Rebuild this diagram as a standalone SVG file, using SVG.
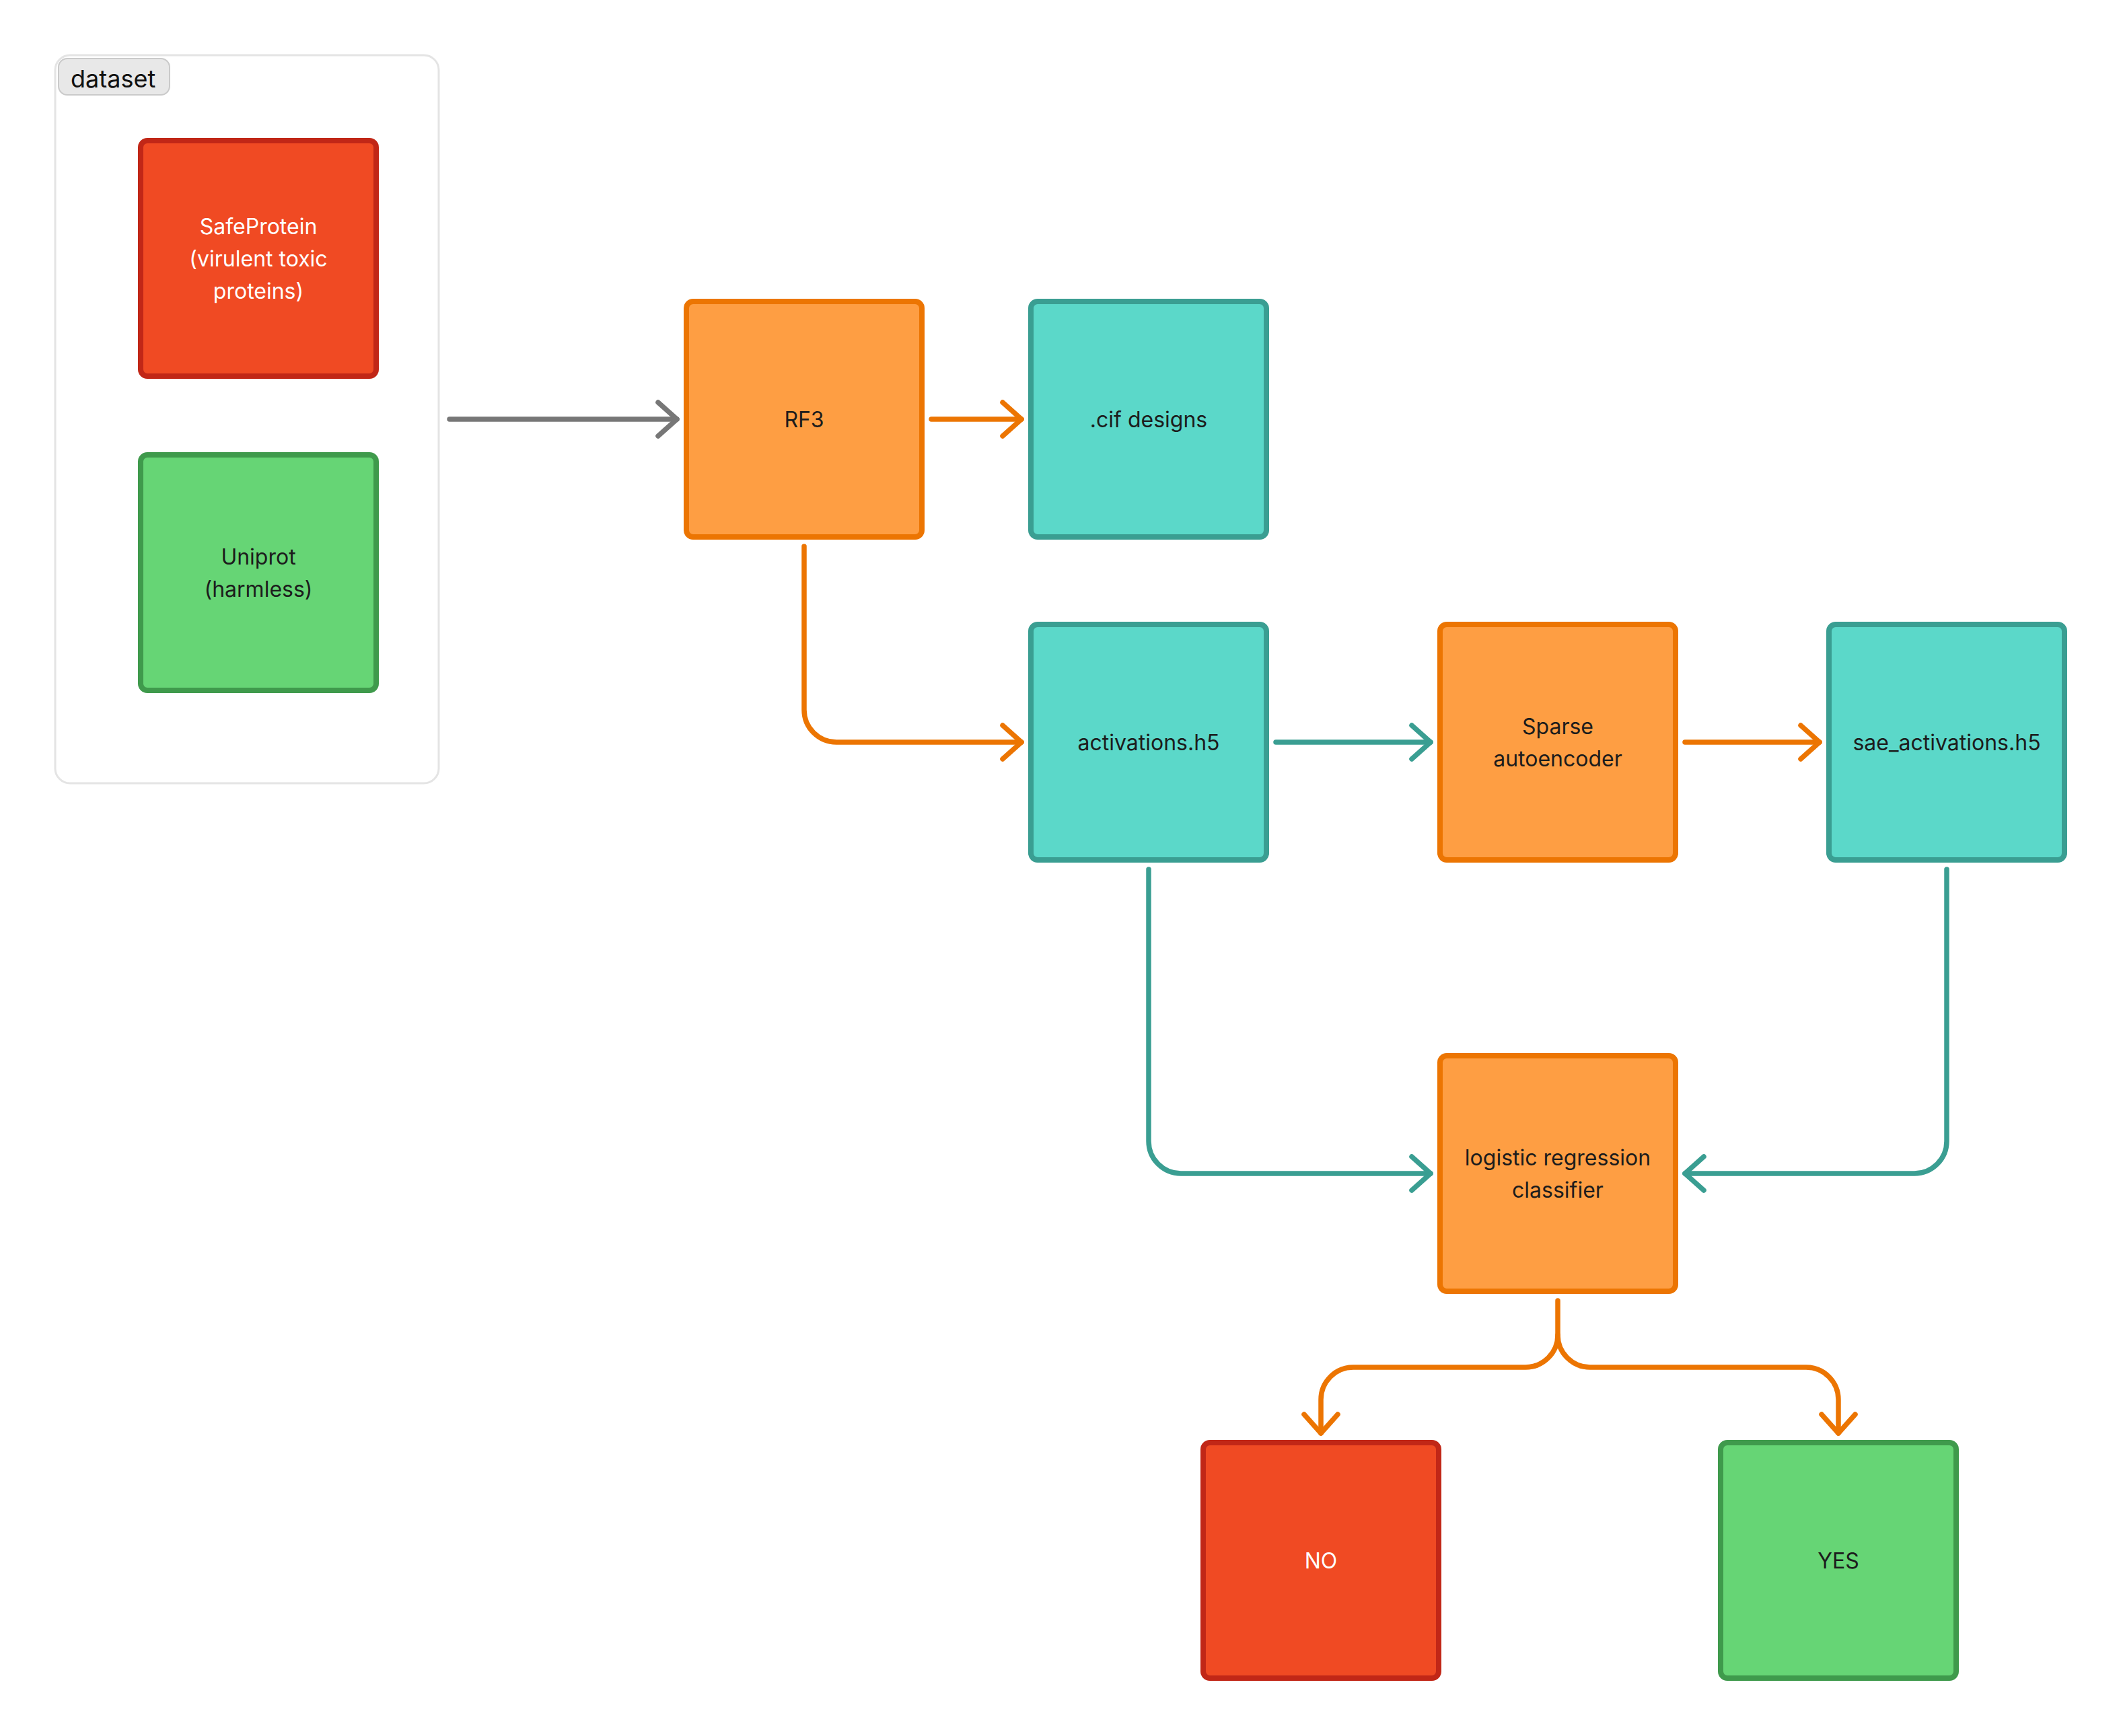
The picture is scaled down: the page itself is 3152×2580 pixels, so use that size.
<svg xmlns="http://www.w3.org/2000/svg" width="3152" height="2580" viewBox="0 0 3152 2580">
<style>
.node{stroke-width:8}
.orange{fill:#FE9E43;stroke:#EC7502}
.teal{fill:#5BD8C9;stroke:#3A9E92}
.red{fill:#F04A23;stroke:#C12717}
.green{fill:#66D575;stroke:#3F9A4C}
.lbl{font-family:Inter,"Noto Sans","Liberation Sans",sans-serif;font-size:32px;text-anchor:middle;fill:#1c1c1c}
.lbl.w{fill:#ffffff}
.edge{fill:none;stroke-width:7.5;stroke-linecap:round;stroke-linejoin:round}
.e-gray{stroke:#777777}
.e-orange{stroke:#EC7502}
.e-teal{stroke:#3A9E92}
</style>
<defs>
<marker id="ah-gray" markerUnits="userSpaceOnUse" markerWidth="80" markerHeight="80" refX="0" refY="0" orient="auto" overflow="visible"><path d="M-28,-25 L0,0 L-28,25" fill="none" stroke="#777777" stroke-width="7.5" stroke-linecap="round" stroke-linejoin="round"/></marker>
<marker id="ah-orange" markerUnits="userSpaceOnUse" markerWidth="80" markerHeight="80" refX="0" refY="0" orient="auto" overflow="visible"><path d="M-28,-25 L0,0 L-28,25" fill="none" stroke="#EC7502" stroke-width="7.5" stroke-linecap="round" stroke-linejoin="round"/></marker>
<marker id="ah-teal" markerUnits="userSpaceOnUse" markerWidth="80" markerHeight="80" refX="0" refY="0" orient="auto" overflow="visible"><path d="M-28,-25 L0,0 L-28,25" fill="none" stroke="#3A9E92" stroke-width="7.5" stroke-linecap="round" stroke-linejoin="round"/></marker>
</defs>
<rect width="3152" height="2580" fill="#ffffff"/>

<g id="group-dataset">
<rect x="82" y="82" width="570" height="1082" rx="22" fill="#ffffff" stroke="#E4E4E4" stroke-width="3"/>
<rect x="87" y="87" width="165" height="54" rx="13" fill="#E8E8E8" stroke="#CACACA" stroke-width="2"/>
<text x="105" y="130" font-family="Inter,'Noto Sans','Liberation Sans',sans-serif" font-size="36" fill="#111111">dataset</text>
</g>

<g id="connectors">
<path class="edge e-gray" d="M668 623 H1006" marker-end="url(#ah-gray)"/>
<path class="edge e-orange" d="M1384 623 H1518" marker-end="url(#ah-orange)"/>
<path class="edge e-orange" d="M1195 812 V1055 A48 48 0 0 0 1243 1103 H1518" marker-end="url(#ah-orange)"/>
<path class="edge e-teal" d="M1896 1103 H2126" marker-end="url(#ah-teal)"/>
<path class="edge e-orange" d="M2504 1103 H2704" marker-end="url(#ah-orange)"/>
<path class="edge e-teal" d="M1707 1292 V1696 A48 48 0 0 0 1755 1744 H2126" marker-end="url(#ah-teal)"/>
<path class="edge e-teal" d="M2893 1292 V1696 A48 48 0 0 1 2845 1744 H2504" marker-end="url(#ah-teal)"/>
<path class="edge e-orange" d="M2315 1933 V1984 A48 48 0 0 1 2267 2032 H2011 A48 48 0 0 0 1963 2080 V2130" marker-end="url(#ah-orange)"/>
<path class="edge e-orange" d="M2315 1984 A48 48 0 0 0 2363 2032 H2684 A48 48 0 0 1 2732 2080 V2130" marker-end="url(#ah-orange)"/>
</g>

<g id="node-safeprotein">
<rect class="node red" x="209" y="209" width="350" height="350" rx="10"/>
<text class="lbl w" x="384" y="347.5">SafeProtein</text>
<text class="lbl w" x="384" y="395.5">(virulent toxic</text>
<text class="lbl w" x="384" y="443.5">proteins)</text>
</g>

<g id="node-uniprot">
<rect class="node green" x="209" y="676" width="350" height="350" rx="10"/>
<text class="lbl" x="384" y="838.5">Uniprot</text>
<text class="lbl" x="384" y="886.5">(harmless)</text>
</g>

<g id="node-rf3">
<rect class="node orange" x="1020" y="448" width="350" height="350" rx="10"/>
<text class="lbl" x="1195" y="634.5">RF3</text>
</g>

<g id="node-cif">
<rect class="node teal" x="1532" y="448" width="350" height="350" rx="10"/>
<text class="lbl" x="1707" y="634.5">.cif designs</text>
</g>

<g id="node-activations">
<rect class="node teal" x="1532" y="928" width="350" height="350" rx="10"/>
<text class="lbl" x="1707" y="1114.5">activations.h5</text>
</g>

<g id="node-sae">
<rect class="node orange" x="2140" y="928" width="350" height="350" rx="10"/>
<text class="lbl" x="2315" y="1090.5">Sparse</text>
<text class="lbl" x="2315" y="1138.5">autoencoder</text>
</g>

<g id="node-sae-activations">
<rect class="node teal" x="2718" y="928" width="350" height="350" rx="10"/>
<text class="lbl" x="2893" y="1114.5">sae_activations.h5</text>
</g>

<g id="node-classifier">
<rect class="node orange" x="2140" y="1569" width="350" height="350" rx="10"/>
<text class="lbl" x="2315" y="1731.5">logistic regression</text>
<text class="lbl" x="2315" y="1779.5">classifier</text>
</g>

<g id="node-no">
<rect class="node red" x="1788" y="2144" width="350" height="350" rx="10"/>
<text class="lbl w" x="1963" y="2330.5">NO</text>
</g>

<g id="node-yes">
<rect class="node green" x="2557" y="2144" width="350" height="350" rx="10"/>
<text class="lbl" x="2732" y="2330.5">YES</text>
</g>
</svg>
